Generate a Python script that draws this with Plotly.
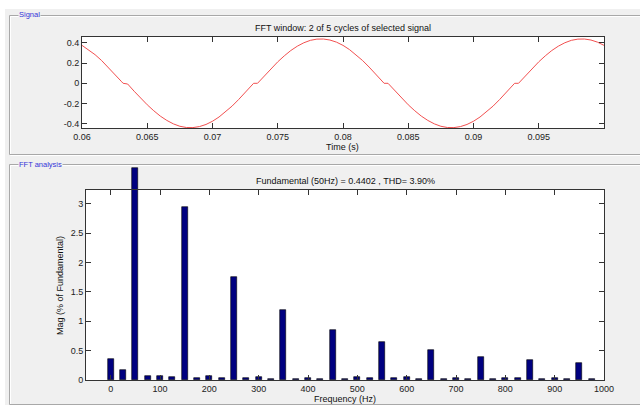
import plotly.graph_objects as go

# ---------------- data ----------------
signal_t = [
    0.0600, 0.0605, 0.0610, 0.0615, 0.0620, 0.0625, 0.0630, 0.06315, 0.06345, 0.0635,
    0.0640, 0.0645, 0.0650, 0.0655, 0.0660, 0.0665, 0.0670, 0.0675, 0.0680, 0.0685,
    0.0690, 0.0695, 0.0700, 0.0705, 0.0710, 0.0715, 0.0720, 0.0725, 0.0730, 0.07315,
    0.07345, 0.0735, 0.0740, 0.0745, 0.0750, 0.0755, 0.0760, 0.0765, 0.0770, 0.0775,
    0.0780, 0.0785, 0.0790, 0.0795,
    0.0800, 0.0805, 0.0810, 0.0815, 0.0820, 0.0825, 0.0830, 0.08315, 0.08345, 0.0835,
    0.0840, 0.0845, 0.0850, 0.0855, 0.0860, 0.0865, 0.0870, 0.0875, 0.0880, 0.0885,
    0.0890, 0.0895, 0.0900, 0.0905, 0.0910, 0.0915, 0.0920, 0.0925, 0.0930, 0.09315,
    0.09345, 0.0935, 0.0940, 0.0945, 0.0950, 0.0955, 0.0960, 0.0965, 0.0970, 0.0975,
    0.0980, 0.0985, 0.0990, 0.0995, 0.1000,
]
signal_v = [
    0.376, 0.334, 0.284, 0.226, 0.161, 0.093, 0.021, 0.0, 0.0, -0.007,
    -0.079, -0.148, -0.213, -0.272, -0.325, -0.368, -0.402, -0.426, -0.438, -0.439,
    -0.429, -0.408, -0.376, -0.334, -0.284, -0.226, -0.161, -0.093, -0.021, 0.0,
    0.0, 0.007, 0.079, 0.148, 0.213, 0.272, 0.325, 0.368, 0.402, 0.426,
    0.438, 0.439, 0.429, 0.408,
    0.376, 0.334, 0.284, 0.226, 0.161, 0.093, 0.021, 0.0, 0.0, -0.007,
    -0.079, -0.148, -0.213, -0.272, -0.325, -0.368, -0.402, -0.426, -0.438, -0.439,
    -0.429, -0.408, -0.376, -0.334, -0.284, -0.226, -0.161, -0.093, -0.021, 0.0,
    0.0, 0.007, 0.079, 0.148, 0.213, 0.272, 0.325, 0.368, 0.402, 0.426,
    0.438, 0.439, 0.429, 0.408, 0.376,
]

freq_hz = [0, 25, 50, 75, 100, 125, 150, 175, 200, 225,
           250, 275, 300, 325, 350, 375, 400, 425, 450, 475,
           500, 525, 550, 575, 600, 625, 650, 675, 700, 725,
           750, 775, 800, 825, 850, 875, 900, 925, 950, 975]
mag_pct = [0.358, 0.170, 3.610, 0.068, 0.068, 0.045, 2.947, 0.034, 0.068, 0.034,
           1.760, 0.034, 0.051, 0.023, 1.198, 0.017, 0.028, 0.017, 0.852, 0.017,
           0.045, 0.028, 0.642, 0.028, 0.045, 0.017, 0.517, 0.017, 0.028, 0.017,
           0.398, 0.017, 0.034, 0.028, 0.338, 0.017, 0.034, 0.017, 0.284, 0.017]

time_ticks = [0.06, 0.065, 0.07, 0.075, 0.08, 0.085, 0.09, 0.095]
time_tick_text = ["0.06", "0.065", "0.07", "0.075", "0.08", "0.085", "0.09", "0.095"]
sig_ticks = [-0.4, -0.2, 0, 0.2, 0.4]
sig_tick_text = ["-0.4", "-0.2", "0", "0.2", "0.4"]
freq_ticks = [0, 100, 200, 300, 400, 500, 600, 700, 800, 900, 1000]
freq_tick_text = ["0", "100", "200", "300", "400", "500", "600", "700", "800", "900", "1000"]
mag_ticks = [0, 0.5, 1, 1.5, 2, 2.5, 3]
mag_tick_text = ["0", "0.5", "1", "1.5", "2", "2.5", "3"]

title_signal = "FFT window: 2 of 5 cycles of selected signal"
title_fft = "Fundamental (50Hz) = 0.4402 , THD= 3.90%"

# ---------------- layout helpers ----------------
W, H = 640, 405
def fx(p):
    return p / W
def fy(p):
    return 1 - p / H

FONT = "Liberation Sans, Arial, sans-serif"
AX_COL = "#333333"
GRAY = "#f0f0f0"

FREQ_RANGE = [-50, 1000]
MAG_TOP = 3.237          # visible top of the magnitude axis
MAG_PX = 380 - 190       # px height of the visible magnitude axes
BAR_TOP_PX = 160         # bars may rise above the axes box (as in the original)
bar_range_top = MAG_TOP * (380 - BAR_TOP_PX) / MAG_PX
BOT_X_DOM = [fx(86), fx(604)]

fig = go.Figure()

fig.add_trace(go.Scatter(
    x=signal_t, y=signal_v, mode="lines",
    line=dict(color="#f25050", width=1),
    xaxis="x", yaxis="y", showlegend=False, hoverinfo="skip",
))

# bars on hidden axes (same scale as the visible ones, but taller so the
# fundamental bar can overshoot the box as in the original)
fig.add_trace(go.Bar(
    x=freq_hz, y=mag_pct, width=12.5,
    marker=dict(color="#000080", line=dict(color="#000000", width=0.6)),
    xaxis="x2", yaxis="y2", showlegend=False,
))

# empty trace that only registers the visible magnitude/frequency axes box
fig.add_trace(go.Scatter(
    x=[], y=[], mode="lines", xaxis="x3", yaxis="y3",
    showlegend=False, hoverinfo="skip",
))

axis_common = dict(
    showline=True, linecolor=AX_COL, linewidth=1, mirror="ticks",
    ticks="inside", ticklen=5, tickcolor=AX_COL, tickwidth=1,
    showgrid=False, zeroline=False, automargin=False, visible=True,
    tickfont=dict(family=FONT, size=9, color="#222222"),
    tickmode="array", fixedrange=True,
)

fig.update_layout(
    width=W, height=H,
    margin=dict(l=0, r=0, t=0, b=0, autoexpand=False),
    paper_bgcolor="#ffffff",
    plot_bgcolor="rgba(0,0,0,0)",
    bargap=0,
    xaxis=dict(domain=[fx(82), fx(604)], range=[0.06, 0.1], anchor="y",
               tickvals=time_ticks, ticktext=time_tick_text, **axis_common),
    yaxis=dict(domain=[fy(128), fy(37)], range=[-0.443, 0.459], anchor="x",
               tickvals=sig_ticks, ticktext=sig_tick_text, **axis_common),
    xaxis2=dict(domain=BOT_X_DOM, range=FREQ_RANGE, anchor="y2",
                visible=False, fixedrange=True),
    yaxis2=dict(domain=[fy(380), fy(BAR_TOP_PX)], range=[0, bar_range_top], anchor="x2",
                visible=False, fixedrange=True),
    xaxis3=dict(domain=BOT_X_DOM, range=FREQ_RANGE, anchor="y3",
                tickvals=freq_ticks, ticktext=freq_tick_text, **axis_common),
    yaxis3=dict(domain=[fy(380), fy(190)], range=[0, MAG_TOP], anchor="x3",
                tickvals=mag_ticks, ticktext=mag_tick_text, **axis_common),
)

shapes = []
# gray window background
shapes.append(dict(type="rect", xref="paper", yref="paper", layer="below",
                   x0=fx(5), x1=fx(700), y0=fy(420), y1=fy(9),
                   fillcolor=GRAY, line=dict(width=0)))
# etched panel frames
for (top, bot) in [(15, 154), (164, 404)]:
    shapes.append(dict(type="rect", xref="paper", yref="paper", layer="below",
                       x0=fx(10.5), x1=fx(700), y0=fy(bot + 1.5), y1=fy(top + 1.5),
                       line=dict(color="#ffffff", width=1), fillcolor="rgba(0,0,0,0)"))
    shapes.append(dict(type="rect", xref="paper", yref="paper", layer="below",
                       x0=fx(9.5), x1=fx(700), y0=fy(bot + 0.5), y1=fy(top + 0.5),
                       line=dict(color="#a8a8a8", width=1), fillcolor="rgba(0,0,0,0)"))
# white axes backgrounds
shapes.append(dict(type="rect", xref="paper", yref="paper", layer="below",
                   x0=fx(82), x1=fx(604), y0=fy(128), y1=fy(37),
                   fillcolor="#ffffff", line=dict(width=0)))
shapes.append(dict(type="rect", xref="paper", yref="paper", layer="below",
                   x0=fx(86), x1=fx(604), y0=fy(380), y1=fy(190),
                   fillcolor="#ffffff", line=dict(width=0)))
fig.update_layout(shapes=shapes)

ann = []
def text(x, y, s, size=9, color="#111111", xanchor="center", angle=0, bg=None):
    d = dict(x=fx(x), y=fy(y), xref="paper", yref="paper", text=s, showarrow=False,
             xanchor=xanchor, yanchor="middle", textangle=angle,
             font=dict(family=FONT, size=size, color=color))
    if bg:
        d["bgcolor"] = bg
        d["borderpad"] = 0
    ann.append(d)

text(18, 14.5, "Signal", size=7.5, color="#3434d8", xanchor="left", bg=GRAY)
text(18, 164, "FFT analysis", size=7.5, color="#3434d8", xanchor="left", bg=GRAY)
text(343, 28, title_signal)
text(342, 146.5, "Time (s)")
text(345, 181, title_fft)
text(345, 398.5, "Frequency (Hz)")
text(60, 286, "Mag (% of Fundamental)", angle=-90)
fig.update_layout(annotations=ann)

fig.write_html("out.html")
